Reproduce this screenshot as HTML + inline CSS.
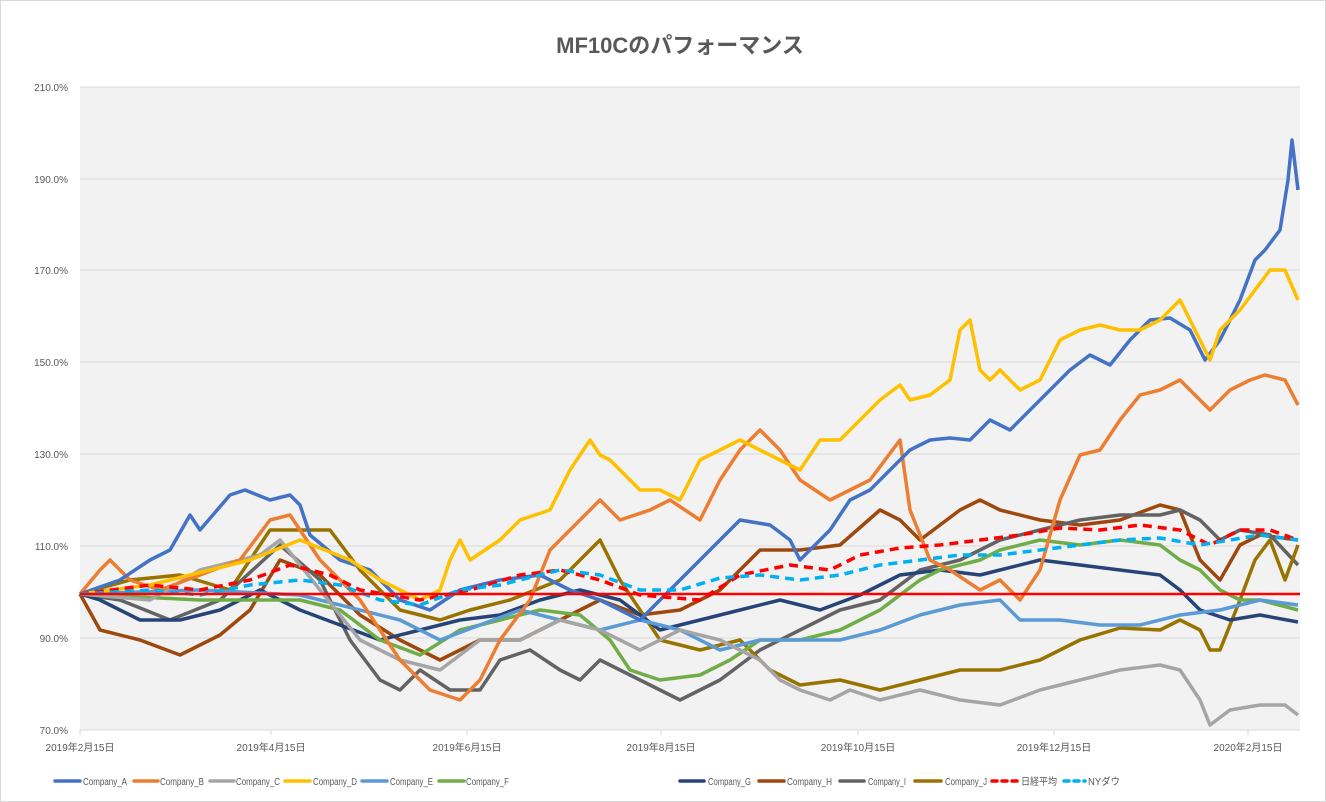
<!DOCTYPE html>
<html><head><meta charset="utf-8"><style>
html,body{margin:0;padding:0;background:#fff}
svg{display:block;font-family:"Liberation Sans","Noto Sans CJK JP",sans-serif}
</style></head><body>
<svg width="1326" height="802" viewBox="0 0 1326 802">
<rect x="0.5" y="0.5" width="1325" height="801" fill="#fff" stroke="#d9d9d9"/>
<text x="680" y="53" text-anchor="middle" font-size="22" font-weight="bold" fill="#595959">MF10Cのパフォーマンス</text>
<rect x="80" y="87" width="1220" height="643" fill="#f2f2f2"/>
<g stroke="#d9d9d9" stroke-width="1">
<line x1="80" y1="87" x2="1300" y2="87"/><line x1="80" y1="179" x2="1300" y2="179"/><line x1="80" y1="270" x2="1300" y2="270"/><line x1="80" y1="362" x2="1300" y2="362"/><line x1="80" y1="454" x2="1300" y2="454"/><line x1="80" y1="546" x2="1300" y2="546"/><line x1="80" y1="638" x2="1300" y2="638"/><line x1="80" y1="730" x2="1300" y2="730"/>
<line x1="80" y1="730" x2="80" y2="735"/><line x1="271" y1="730" x2="271" y2="735"/><line x1="467" y1="730" x2="467" y2="735"/><line x1="661" y1="730" x2="661" y2="735"/><line x1="858" y1="730" x2="858" y2="735"/><line x1="1054" y1="730" x2="1054" y2="735"/><line x1="1248" y1="730" x2="1248" y2="735"/>
</g>
<g font-size="10" fill="#595959" text-anchor="end">
<text x="68" y="91">210.0%</text><text x="68" y="183">190.0%</text><text x="68" y="274">170.0%</text><text x="68" y="366">150.0%</text><text x="68" y="458">130.0%</text><text x="68" y="550">110.0%</text><text x="68" y="642">90.0%</text><text x="68" y="734">70.0%</text>
</g>
<g font-size="10" fill="#595959" text-anchor="middle">
<text x="80" y="751">2019年2月15日</text><text x="271" y="751">2019年4月15日</text><text x="467" y="751">2019年6月15日</text><text x="661" y="751">2019年8月15日</text><text x="858" y="751">2019年10月15日</text><text x="1054" y="751">2019年12月15日</text><text x="1248" y="751">2020年2月15日</text>
</g>
<g fill="none" stroke-width="3.5" stroke-linejoin="round">
<polyline stroke="#9e480e" points="80,594 100,630 140,640 180,655 220,635 250,610 280,560 320,575 360,615 400,640 440,660 480,640 520,640 560,620 600,600 640,615 680,610 720,590 760,550 800,550 840,545 880,510 900,520 920,540 960,510 980,500 1000,510 1040,520 1080,525 1120,520 1160,505 1180,510 1200,560 1220,580 1240,545 1260,535 1298,540"/>
<polyline stroke="#636363" points="80,594 120,600 170,620 220,600 280,545 320,580 350,640 380,680 400,690 420,670 450,690 480,690 500,660 530,650 560,670 580,680 600,660 640,680 680,700 720,680 760,650 800,630 840,610 880,600 920,570 960,560 1000,540 1040,530 1080,520 1120,515 1160,515 1180,510 1200,520 1220,540 1240,530 1270,535 1298,565"/>
<polyline stroke="#997300" points="80,594 130,580 180,575 230,590 270,530 300,530 330,530 360,570 400,610 440,620 470,610 510,600 560,580 600,540 620,580 640,610 660,640 700,650 740,640 770,670 800,685 840,680 880,690 920,680 960,670 1000,670 1040,660 1080,640 1120,628 1160,630 1180,620 1200,630 1210,650 1220,650 1240,600 1255,560 1270,540 1285,580 1298,545"/>
<polyline stroke="#264478" points="80,594 100,600 140,620 180,620 220,610 260,590 300,610 340,625 380,640 420,630 460,620 500,615 540,600 580,590 620,600 660,630 700,620 740,610 780,600 820,610 860,595 900,575 940,570 980,575 1000,570 1040,560 1080,565 1120,570 1160,575 1180,590 1200,610 1230,620 1260,615 1298,622"/>
<polyline stroke="#70ad47" points="80,594 200,600 300,600 340,610 380,640 420,655 460,630 500,620 540,610 580,615 610,640 630,670 660,680 700,675 730,660 760,640 800,640 840,630 880,610 920,580 940,570 980,560 1000,550 1040,540 1080,545 1120,540 1160,545 1180,560 1200,570 1220,590 1240,600 1260,600 1298,610"/>
<polyline stroke="#5b9bd5" points="80,594 200,590 300,595 400,620 440,640 480,625 520,610 560,620 600,630 640,620 680,630 720,650 760,640 800,640 840,640 880,630 920,615 960,605 1000,600 1020,620 1060,620 1100,625 1140,625 1180,615 1220,610 1260,600 1298,605"/>
<polyline stroke="#a5a5a5" points="80,594 150,600 200,570 260,555 280,540 320,590 360,640 400,660 440,670 480,640 520,640 560,620 600,630 640,650 680,630 720,640 760,660 780,680 800,690 830,700 850,690 880,700 920,690 960,700 1000,705 1040,690 1080,680 1120,670 1160,665 1180,670 1200,700 1210,725 1230,710 1260,705 1285,705 1298,715"/>
<polyline stroke="#ed7d31" points="80,594 100,570 110,560 130,580 160,590 200,575 240,560 270,520 290,515 320,560 360,600 400,660 430,690 460,700 480,680 500,640 530,600 550,550 580,520 600,500 620,520 650,510 670,500 700,520 720,480 740,450 760,430 780,450 800,480 830,500 850,490 870,480 900,440 910,510 930,560 950,570 980,590 1000,580 1020,600 1040,570 1060,500 1080,455 1100,450 1120,420 1140,395 1160,390 1180,380 1200,400 1210,410 1230,390 1250,380 1265,375 1285,380 1298,405"/>
<polyline stroke="#4472c4" points="80,594 120,580 150,560 170,550 190,515 200,530 230,495 245,490 270,500 290,495 300,505 310,535 340,560 370,570 400,600 430,610 460,590 500,580 540,575 570,590 600,600 640,620 680,580 700,560 720,540 740,520 770,525 790,540 800,560 830,530 850,500 870,490 890,470 910,450 930,440 950,438 970,440 990,420 1010,430 1030,410 1050,390 1070,370 1090,355 1110,365 1130,340 1150,320 1170,318 1190,330 1205,360 1220,340 1240,300 1255,260 1265,250 1280,230 1288,180 1292,140 1298,190"/>
<polyline stroke="#ffc000" points="80,594 150,585 250,560 300,540 350,560 380,580 420,600 440,590 450,560 460,540 470,560 500,540 520,520 550,510 570,470 590,440 600,455 610,460 640,490 660,490 680,500 700,460 720,450 740,440 760,450 780,460 800,470 820,440 840,440 860,420 880,400 900,385 910,400 930,395 950,380 960,330 970,320 980,370 990,380 1000,370 1020,390 1040,380 1060,340 1080,330 1100,325 1120,330 1140,330 1160,320 1180,300 1200,340 1210,360 1220,330 1240,310 1255,290 1270,270 1285,270 1298,300"/>
<polyline stroke="#ff0000" stroke-dasharray="9,6" points="80,594 150,585 200,590 250,580 290,565 330,575 360,590 420,600 470,590 520,575 560,570 600,580 640,595 700,600 740,575 790,565 830,570 860,555 900,548 940,545 980,540 1020,535 1060,528 1100,530 1140,525 1180,530 1210,545 1240,530 1270,530 1298,540"/>
<polyline stroke="#00b0f0" stroke-dasharray="9,6" points="80,594 150,590 200,595 250,585 300,580 340,585 380,600 420,605 460,590 500,585 560,570 600,575 640,590 680,590 720,578 760,575 800,580 840,575 880,565 920,560 960,555 1000,555 1040,550 1080,545 1120,540 1160,538 1200,545 1230,540 1260,535 1298,540"/>
</g>
<line x1="80" y1="594" x2="1300" y2="594" stroke="#ff0000" stroke-width="2.5"/>
<g font-size="10" fill="#595959" stroke-width="3.5" stroke-linecap="round">
<line x1="55" y1="781" x2="80" y2="781" stroke="#4472c4"/><text x="83" y="785" textLength="44" lengthAdjust="spacingAndGlyphs">Company_A</text>
<line x1="134" y1="781" x2="158" y2="781" stroke="#ed7d31"/><text x="160" y="785" textLength="44" lengthAdjust="spacingAndGlyphs">Company_B</text>
<line x1="210" y1="781" x2="234" y2="781" stroke="#a5a5a5"/><text x="236" y="785" textLength="44" lengthAdjust="spacingAndGlyphs">Company_C</text>
<line x1="285" y1="781" x2="310" y2="781" stroke="#ffc000"/><text x="313" y="785" textLength="44" lengthAdjust="spacingAndGlyphs">Company_D</text>
<line x1="362" y1="781" x2="387" y2="781" stroke="#5b9bd5"/><text x="390" y="785" textLength="43" lengthAdjust="spacingAndGlyphs">Company_E</text>
<line x1="439" y1="781" x2="464" y2="781" stroke="#70ad47"/><text x="466" y="785" textLength="43" lengthAdjust="spacingAndGlyphs">Company_F</text>
<line x1="680" y1="781" x2="704" y2="781" stroke="#264478"/><text x="708" y="785" textLength="43" lengthAdjust="spacingAndGlyphs">Company_G</text>
<line x1="759" y1="781" x2="784" y2="781" stroke="#9e480e"/><text x="787" y="785" textLength="45" lengthAdjust="spacingAndGlyphs">Company_H</text>
<line x1="840" y1="781" x2="864" y2="781" stroke="#636363"/><text x="868" y="785" textLength="38" lengthAdjust="spacingAndGlyphs">Company_I</text>
<line x1="915" y1="781" x2="941" y2="781" stroke="#997300"/><text x="945" y="785" textLength="42" lengthAdjust="spacingAndGlyphs">Company_J</text>
<line x1="992" y1="781" x2="1017" y2="781" stroke="#ff0000" stroke-dasharray="5,5"/><text x="1021" y="785" textLength="36" lengthAdjust="spacingAndGlyphs">日経平均</text>
<line x1="1064" y1="781" x2="1085" y2="781" stroke="#00b0f0" stroke-dasharray="5,5"/><text x="1088" y="785" textLength="32" lengthAdjust="spacingAndGlyphs">NYダウ</text>
</g>
</svg>
</body></html>
